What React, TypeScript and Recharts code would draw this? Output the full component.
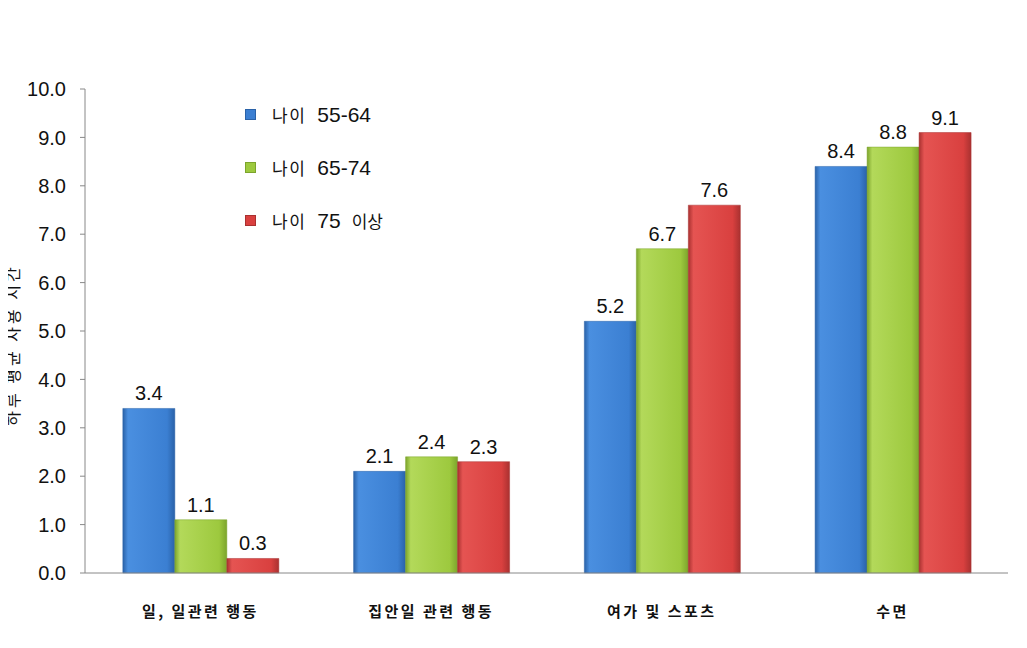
import { BarChart, Bar, XAxis, YAxis, LabelList } from "recharts";

const categories = ["일, 일관련 행동", "집안일 관련 행동", "여가 및 스포츠", "수면"];
const age5564 = [3.4, 2.1, 5.2, 8.4];
const age6574 = [1.1, 2.4, 6.7, 8.8];
const age75 = [0.3, 2.3, 7.6, 9.1];
const seriesNames = ["나이 55-64", "나이 65-74", "나이 75 이상"];
const yTicks = [0, 1, 2, 3, 4, 5, 6, 7, 8, 9, 10];

const data = categories.map((c, i) => ({ cat: c, a: age5564[i], b: age6574[i], c: age75[i] }));

const colors = [
  { id: "gBlue", light: "#4a8fe0", mid: "#3b7fd2", dark: "#2a62a8", legend: "#3b7fd2" },
  { id: "gGreen", light: "#b3d95a", mid: "#9dc93e", dark: "#7ca42c", legend: "#9dc93e" },
  { id: "gRed", light: "#e55452", mid: "#d9403f", dark: "#a93130", legend: "#d9403f" },
];

const KR = "'Noto Sans CJK KR', 'Noto Sans', sans-serif";
const NUM = "'Liberation Sans', Arial, sans-serif";

function CatTick(props: any) {
  const { x, y, payload } = props;
  return (
    <text x={x} y={y + 36} textAnchor="middle" fontFamily={KR} fontSize={15} fontWeight={600} fill="#111" style={{ letterSpacing: 2.5 }}>
      {payload.value}
    </text>
  );
}

export default function App() {
  return (
    <div style={{ position: "relative", width: 1019, height: 640, background: "#fff" }}>
      <BarChart
        width={1019}
        height={640}
        data={data}
        margin={{ top: 81, right: 19, left: 20, bottom: 25 }}
        barGap={0}
        barCategoryGap="16.4%"
      >
        <defs>
          {colors.map((c) => (
            <linearGradient key={c.id} id={c.id} x1="0" y1="0" x2="1" y2="0">
              <stop offset="0%" stopColor={c.dark} />
              <stop offset="10%" stopColor={c.light} />
              <stop offset="85%" stopColor={c.mid} />
              <stop offset="100%" stopColor={c.dark} />
            </linearGradient>
          ))}
        </defs>
        <XAxis
          dataKey="cat"
          axisLine={{ stroke: "#888" }}
          tickLine={false}
          height={50}
          tick={<CatTick />}
          interval={0}
        />
        <YAxis
          domain={[0, 10]}
          ticks={yTicks}
          width={57}
          axisLine={{ stroke: "#888" }}
          tickLine={{ stroke: "#888" }}
          tickSize={5}
          tickMargin={14}
          tickFormatter={(v: number) => v.toFixed(1)}
          tick={{ fontFamily: NUM, fontSize: 20, fill: "#111" }}
        />
        {(["a", "b", "c"] as const).map((k, i) => (
          <Bar key={k} dataKey={k} name={seriesNames[i]} fill={`url(#${colors[i].id})`} stroke={colors[i].dark} strokeWidth={0.5} isAnimationActive={false}>
            <LabelList
              dataKey={k}
              position="top"
              offset={8}
              formatter={(v: any) => Number(v).toFixed(1)}
              style={{ fontFamily: NUM, fontSize: 20, fill: "#111" }}
            />
          </Bar>
        ))}
      </BarChart>
      <div style={{ position: "absolute", left: 4, top: 345 - 8, transform: "translate(-50%, -50%) rotate(-90deg)", transformOrigin: "center", whiteSpace: "nowrap", fontFamily: KR, fontSize: 16, color: "#111", letterSpacing: 3 }}>
        하루 평균 사용 시간
      </div>
      {seriesNames.map((n, i) => {
        const parts = n.split(" ");
        return (
          <div key={n} style={{ position: "absolute", left: 237, top: 94 + i * 53, display: "flex", alignItems: "center", fontFamily: KR, fontSize: 17, color: "#111" }}>
            <span style={{ display: "inline-block", width: 9, height: 9, background: colors[i].legend, border: `1px solid ${colors[i].dark}`, marginRight: 16 }} />
            <span style={{ letterSpacing: 1.5 }}>{parts[0]}</span>
            <span style={{ fontFamily: NUM, fontSize: 21, marginLeft: 11 }}>{parts[1]}</span>
            {parts[2] && <span style={{ marginLeft: 11 }}>{parts[2]}</span>}
          </div>
        );
      })}
    </div>
  );
}
